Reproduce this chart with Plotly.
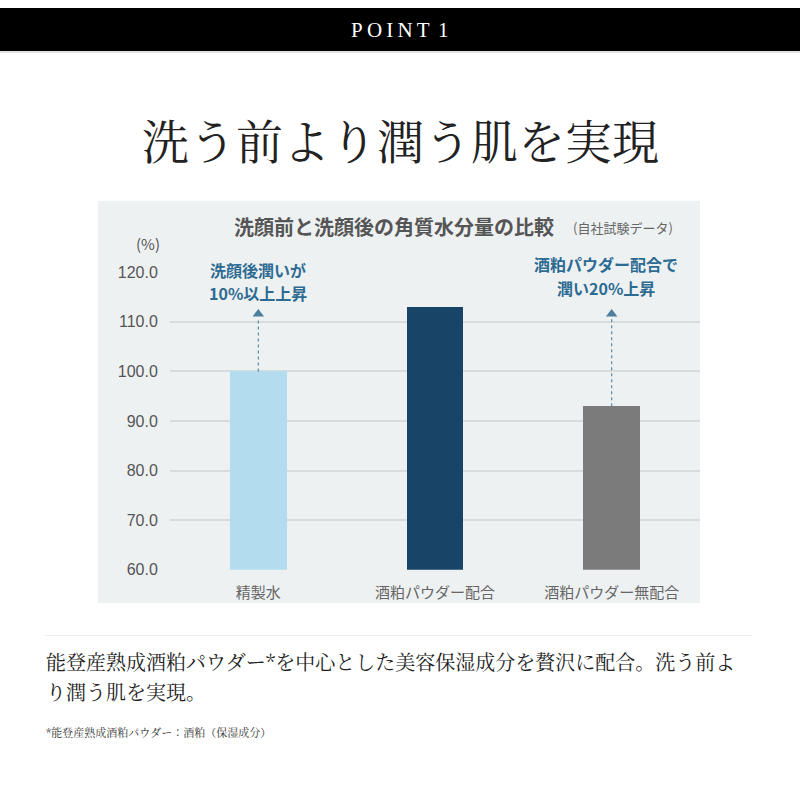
import plotly.graph_objects as go

categories = ["精製水", "酒粕パウダー配合", "酒粕パウダー無配合"]
values = [100, 113, 93]
bar_colors = ["#b3dcef", "#174467", "#7b7b7b"]
y_ticks = [60, 70, 80, 90, 100, 110, 120]
y_tick_labels = ["60.0", "70.0", "80.0", "90.0", "100.0", "110.0", "120.0"]
arrow_cats = ["精製水", "酒粕パウダー無配合"]
arrow_from = [100, 93]
arrow_to = [111.6, 111.6]

W = H = 800
def px(x): return x / W
def py(y): return 1 - y / H

fig = go.Figure()
fig.add_trace(go.Bar(x=categories, y=[v - 60 for v in values], base=60,
                     marker=dict(color=bar_colors, line=dict(width=0)),
                     width=0.32, hoverinfo="skip"))
for c, a, b in zip(arrow_cats, arrow_from, arrow_to):
    fig.add_trace(go.Scatter(x=[c, c], y=[a, b - 0.8], mode="lines",
                             line=dict(color="#5a8aa5", width=1.2, dash="dot"),
                             hoverinfo="skip", cliponaxis=False))
    fig.add_trace(go.Scatter(x=[c], y=[b], mode="markers",
                             marker=dict(symbol="triangle-up", size=10, color="#4d7f9c"),
                             hoverinfo="skip", cliponaxis=False))

shapes = [
    dict(type="rect", xref="paper", yref="paper", x0=0, x1=1, y0=py(44), y1=1,
         fillcolor="#000000", line=dict(width=0), layer="below"),
    dict(type="line", xref="paper", yref="paper", x0=0, x1=1, y0=py(45), y1=py(45),
         line=dict(color="#d8d8d8", width=1.5), layer="below"),
    dict(type="rect", xref="paper", yref="paper", x0=px(98), x1=px(700), y0=py(608), y1=py(197),
         fillcolor="#eef1f2", line=dict(width=0), layer="below"),
    dict(type="line", xref="paper", yref="paper", x0=px(45), x1=px(752), y0=py(641), y1=py(641),
         line=dict(color="#ececec", width=1), layer="below"),
]

ann = [
    dict(text="P\u2009O\u2009I\u2009N\u2009T\u2009\u20091", x=0.5, y=py(22), font=dict(size=21, color="#ffffff", family="Liberation Serif, DejaVu Serif, serif")),
    dict(text="洗う前より潤う肌を実現", x=0.5, y=py(133), font=dict(size=47, color="#222222", family="Noto Serif CJK JP, Noto Sans CJK JP, serif")),
    dict(text="<b>洗顔前と洗顔後の角質水分量の比較</b>", x=px(232), y=py(223), xanchor="left", font=dict(size=20, color="#555555", family="Noto Sans CJK JP")),
    dict(text="(自社試験データ)", x=px(571), y=py(224), xanchor="left", font=dict(size=13, color="#666666", family="Noto Sans CJK JP")),
    dict(text="(%)", x=px(162), y=py(241), xanchor="right", font=dict(size=15, color="#555555", family="Noto Sans CJK JP")),
    dict(text="<b>洗顔後潤いが</b>", x=px(258), y=py(268), font=dict(size=16, color="#2d6b92", family="Noto Sans CJK JP")),
    dict(text="<b>10%以上上昇</b>", x=px(258), y=py(291), font=dict(size=16, color="#2d6b92", family="Noto Sans CJK JP")),
    dict(text="<b>酒粕パウダー配合で</b>", x=px(606), y=py(262), font=dict(size=16, color="#2d6b92", family="Noto Sans CJK JP")),
    dict(text="<b>潤い20%上昇</b>", x=px(606), y=py(286), font=dict(size=16, color="#2d6b92", family="Noto Sans CJK JP")),
    dict(text="能登産熟成酒粕パウダー*を中心とした美容保湿成分を贅沢に配合。洗う前よ", x=px(44), y=py(668), xanchor="left", font=dict(size=20, color="#222222", family="Noto Serif CJK JP, Noto Sans CJK JP, serif")),
    dict(text="り潤う肌を実現。", x=px(44), y=py(698), xanchor="left", font=dict(size=20, color="#222222", family="Noto Serif CJK JP, Noto Sans CJK JP, serif")),
    dict(text="*能登産熟成酒粕パウダー：酒粕（保湿成分）", x=px(44), y=py(740), xanchor="left", font=dict(size=11, color="#333333", family="Noto Serif CJK JP, Noto Sans CJK JP, serif")),
]
for a in ann:
    a.setdefault("xanchor", "center")
    a.update(xref="paper", yref="paper", yanchor="middle", showarrow=False)

fig.update_layout(
    width=W, height=H, margin=dict(l=0, r=0, t=0, b=0), autosize=False,
    paper_bgcolor="#ffffff", plot_bgcolor="rgba(0,0,0,0)",
    showlegend=False, shapes=shapes, annotations=ann, bargap=0,
    xaxis=dict(domain=[px(170), px(700)], showgrid=False, zeroline=False, showline=False,
               tickfont=dict(size=15, color="#666666", family="Noto Sans CJK JP"),
               ticks="outside", ticklen=9, tickcolor="rgba(0,0,0,0)", fixedrange=True),
    yaxis=dict(domain=[py(574), py(270)], range=[60, 120], tickvals=y_ticks, ticktext=y_tick_labels,
               showgrid=True, gridcolor="#d7dbdd", gridwidth=1.5, zeroline=False, showline=False,
               tickfont=dict(size=16, color="#555555", family="Liberation Sans, Arial, sans-serif"),
               ticks="outside", ticklen=8, tickcolor="rgba(0,0,0,0)", fixedrange=True),
)
post = "document.body.style.margin='0';document.body.style.overflow='hidden';"
fig.write_html("out.html", config={"responsive": False, "displayModeBar": False}, post_script=post)
